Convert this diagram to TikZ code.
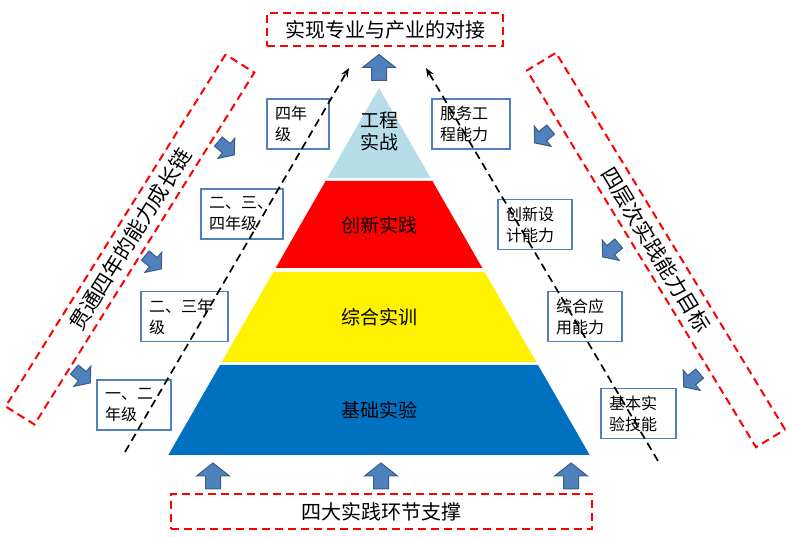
\documentclass[tikz,border=0pt]{standalone}
\usepackage{fontspec}
\setmainfont{Noto Sans CJK SC}
\usepackage{tikz}
\usetikzlibrary{arrows.meta}

\definecolor{capblue}{RGB}{183,221,232}
\definecolor{baseblue}{RGB}{0,112,192}
\definecolor{arrowblue}{RGB}{79,129,189}
\definecolor{arrowedge}{RGB}{56,93,138}

\begin{document}
\begin{tikzpicture}[x=1pt,y=1pt,
    goalbox/.style={draw=red, line width=2pt, dash pattern=on 8pt off 5pt, inner sep=0pt},
    gradebox/.style={draw=arrowblue, line width=1.5pt, fill=white, align=left, inner xsep=8pt, inner ysep=0pt, minimum height=50pt, font=\fontsize{16}{21}\selectfont},
    layerlabel/.style={align=center, font=\fontsize{19}{22}\selectfont},
    trail/.style={black, line width=1.7pt, dash pattern=on 8pt off 5pt, -{Stealth[length=9pt,width=7pt]}},
    blockarrow/.pic={\draw[fill=arrowblue, draw=arrowedge, line width=1pt] (-7.5,-12.5) -- (-7.5,0.5) -- (-16.5,0.5) -- (0,13.5) -- (16.5,0.5) -- (7.5,0.5) -- (7.5,-12.5) -- cycle;}
]
\useasboundingbox (0,0) rectangle (792,537);

% Pyramid bands
\foreach \top/\bot/\col in {449/359/capblue, 356/269/red, 265/175/yellow, 172/82/baseblue} {
    \fill[\col] ({379-0.574*(449-\top)},\top) -- ({379+0.574*(449-\top)},\top)
        -- ({379+0.574*(449-\bot)},\bot) -- ({379-0.574*(449-\bot)},\bot) -- cycle;
}

% Band labels
\node[layerlabel] (cap) at (379,406) {工程\\实战};
\node[layerlabel] (innov) at (379,312) {创新实践};
\node[layerlabel] (train) at (379,220) {综合实训};
\node[layerlabel] (basic) at (379,127) {基础实验};

% Goal boxes
\node[goalbox, minimum width=236, minimum height=33, font=\fontsize{20}{24}\selectfont] (industry) at (385,507.5) {实现专业与产业的对接};
\node[goalbox, minimum width=421, minimum height=35, font=\fontsize{20}{24}\selectfont] (support) at (381.5,25.5) {四大实践环节支撑};
\node[goalbox, rotate=58, minimum width=415, minimum height=34, font=\fontsize{21}{24}\selectfont] (chain) at (130,297.5) {贯通四年的能力成长链};
\node[goalbox, rotate=-58.7, minimum width=441, minimum height=34, font=\fontsize{21}{24}\selectfont] (target) at (656,287) {四层次实践能力目标};

% Grade boxes (left)
\node[gradebox, minimum width=62, text width=46] (g4) at (298,413) {四年\\级};
\node[gradebox, minimum width=82, text width=66] (g234) at (242,323) {二、三、\\四年级};
\node[gradebox, minimum width=87, text width=71] (g23) at (184.5,220.5) {二、三年\\级};
\node[gradebox, minimum width=74, text width=58] (g12) at (134,132) {一、二\\年级};

% Ability boxes (right)
\node[gradebox, minimum width=78, text width=62] (a4) at (471,413) {服务工\\程能力};
\node[gradebox, minimum width=74, text width=58] (a3) at (535,312.5) {创新设\\计能力};
\node[gradebox, minimum width=74, text width=58] (a2) at (585,220.5) {综合应\\用能力};
\node[gradebox, minimum width=75, text width=59] (a1) at (638.5,123.5) {基本实\\验技能};

% Growth lines
\coordinate (lstart) at (125,85);
\coordinate (lend) at (349,469);
\coordinate (rstart) at (658,76);
\coordinate (rend) at (426,469);
\draw[trail] (lstart) -- (lend);
\draw[trail] (rstart) -- (rend);

% Block arrows
\pic at (379,469) {blockarrow};
\foreach \x in {213,381,571} {
    \pic at (\x,60.5) {blockarrow};
}
\foreach \x/\y in {226/389, 153/275, 82/161} {
    \pic[rotate=-130, scale=0.8] at (\x,\y) {blockarrow};
}
\foreach \x/\y in {543/401, 611/287, 692/157} {
    \pic[rotate=130, scale=0.8] at (\x,\y) {blockarrow};
}
\end{tikzpicture}
\end{document}
